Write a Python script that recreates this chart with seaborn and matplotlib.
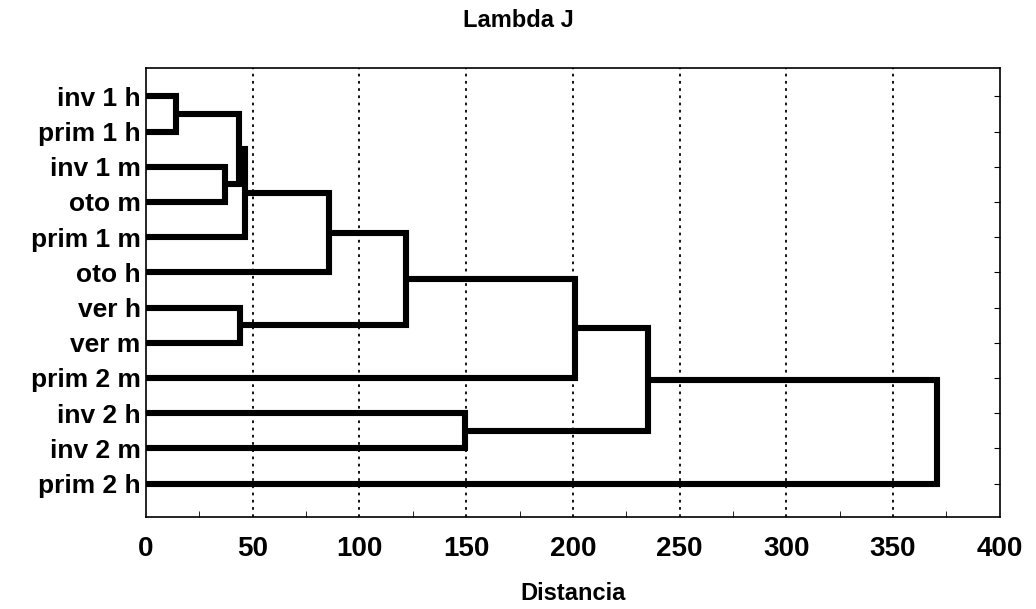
import pandas as pd
import numpy as np
import seaborn as sns
import matplotlib.pyplot as plt
from matplotlib.ticker import MultipleLocator

# Leaves, top to bottom
labels = ["inv 1 h", "prim 1 h", "inv 1 m", "oto m", "prim 1 m", "oto h",
          "ver h", "ver m", "prim 2 m", "inv 2 h", "inv 2 m", "prim 2 h"]

# Merges (linkage style): new cluster ids start at len(labels)
merge_left = [0, 2, 6, 12, 15, 16, 17, 18, 9, 19, 21]
merge_right = [1, 3, 7, 13, 4, 5, 14, 8, 10, 20, 11]
merge_dist = [14, 37, 44, 43.5, 46.5, 85.5, 122, 201, 149.5, 235, 370.5]

x_ticks = [0, 50, 100, 150, 200, 250, 300, 350, 400]

# Build segment table for the dendrogram
n = len(labels)
pos = {i: float(i) for i in range(n)}
height = {i: 0.0 for i in range(n)}
rows = []
for k, (a, b, d) in enumerate(zip(merge_left, merge_right, merge_dist)):
    pts = [(height[a], pos[a]), (d, pos[a]), (d, pos[b]), (height[b], pos[b])]
    for x, y in pts:
        rows.append({"x": x, "y": y, "seg": k})
    new = n + k
    pos[new] = (pos[a] + pos[b]) / 2
    height[new] = d
df = pd.DataFrame(rows)

sns.set_style("white")
plt.rcParams["font.family"] = ["Liberation Sans", "DejaVu Sans"]
plt.rcParams["font.weight"] = "bold"
plt.rcParams["text.color"] = "black"
plt.rcParams["axes.labelcolor"] = "black"
plt.rcParams["xtick.color"] = "black"
plt.rcParams["ytick.color"] = "black"

fig = plt.figure(figsize=(10.36, 6.09), dpi=100)
ax = fig.add_axes([0.141, 0.151, 0.824, 0.737])

sns.lineplot(data=df, x="x", y="y", units="seg", estimator=None, sort=False,
             color="black", lw=4.4, ax=ax, legend=False,
             solid_joinstyle="miter", solid_capstyle="butt")

ax.set_xlim(0, 400)
ax.set_ylim(n - 0.05, -0.8)
ax.set_xticks(x_ticks)
ax.set_xticklabels([str(t) for t in x_ticks], fontsize=20, fontweight="bold")
ax.xaxis.set_minor_locator(MultipleLocator(25))
ax.set_yticks(range(n))
ax.set_yticklabels(labels, fontsize=19, fontweight="bold")
ax.tick_params(axis="x", which="major", direction="in", length=0, pad=14)
ax.tick_params(axis="x", which="minor", direction="in", length=4, top=False, bottom=True)
ax.tick_params(axis="y", direction="in", length=4, left=False, right=True, pad=4)

for t in x_ticks[1:-1]:
    ax.axvline(t, color="black", lw=1.3, ls=(0, (1.5, 2.5)), zorder=0)

for s in ax.spines.values():
    s.set_color("black")
    s.set_linewidth(1.2)

ax.set_xlabel("Distancia", fontsize=17, fontweight="bold", labelpad=14)
ax.set_ylabel("")
fig.suptitle("Lambda J", fontsize=17, fontweight="bold", y=0.985)

fig.savefig("out.png", dpi=100)
